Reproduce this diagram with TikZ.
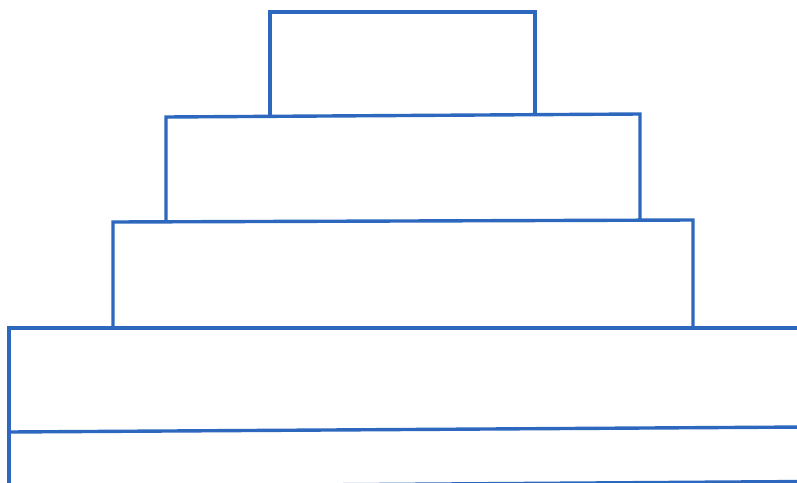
\documentclass[tikz,border=0pt]{standalone}
\definecolor{tierblue}{RGB}{46,104,190}
\begin{document}
\begin{tikzpicture}[x=1pt,y=-1pt,
  tier/.style={draw=tierblue,line width=3.4pt,line join=miter}]
\useasboundingbox (0,0) rectangle (797,482);
\fill[white] (0,0) rectangle (797,482);
\begin{scope}
\clip (0,0) rectangle (797,482);
% bottom band (extends past the right edge)
\draw[tier] (805,328) -- (9,328) -- (9,490);
\draw[tier] (9,432) -- (805,427);
\draw[tier] (9,487) -- (805,481.5);
% third tier
\draw[tier] (113,327) -- (113,222) -- (693,220) -- (693,326);
% second tier
\draw[tier] (166,221) -- (166,117) -- (640,114) -- (640,219);
% top tier
\draw[tier] (270,116) -- (270,12) -- (535,12) -- (535,115);
\end{scope}
\end{tikzpicture}
\end{document}
